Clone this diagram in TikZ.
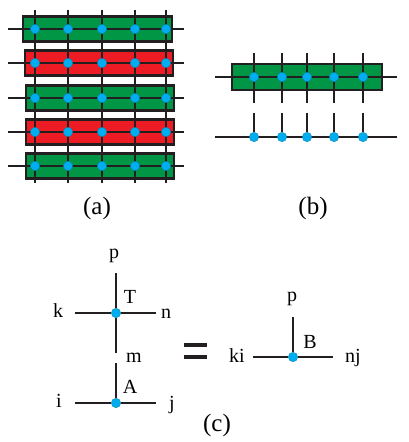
\documentclass[tikz,border=0pt]{standalone}
\usepackage{fontspec}
\setmainfont{Liberation Serif}
\definecolor{lgreen}{RGB}{0,150,70}
\definecolor{lred}{RGB}{237,28,36}
\definecolor{lblue}{RGB}{0,174,239}
\definecolor{lline}{RGB}{35,31,32}
\begin{document}
\begin{tikzpicture}[x=1pt,y=-1pt,
  leg/.style={draw=lline,line width=1.5pt},
  bar/.style={draw=lline,line width=2.8pt},
  site/.style={circle,fill=lblue,draw=lblue!70!black,line width=0.3pt,inner sep=0pt,minimum size=9.5pt},
  lbl/.style={font=\fontsize{20}{22}\selectfont,inner sep=0pt},
  paneltag/.style={font=\fontsize{25}{27}\selectfont,inner sep=0pt}]
\useasboundingbox (0,0) rectangle (409,442);
% ---------- panel (a)
\foreach \x in {35,68,102,135,166} \draw[leg] (\x,10) -- (\x,183);
\foreach \yy/\xa/\xb/\c [count=\r] in {29/23/172/lgreen,63/25/173/lred,98/26/174/lgreen,132/26/174/lred,166/26/174/lgreen}{
  \filldraw[bar,fill=\c] (\xa,\yy-12.5) rectangle (\xb,\yy+12.5);
  \draw[leg] (8,\yy) coordinate (al\r) -- (184,\yy) coordinate (ar\r);
  \foreach \x in {35,68,102,135,166} \draw[leg] (\x,\yy-12.5) -- (\x,\yy+12.5);
  \foreach \x [count=\k] in {35,68,102,135,166} \node[site] (a\r\k) at (\x,\yy) {};
}
\node[paneltag] (la) at (97,208) {(a)};
% ---------- panel (b)
\foreach \x in {254,282,307,334,363} \draw[leg] (\x,53) -- (\x,103);
\filldraw[bar,fill=lgreen] (232,64) rectangle (382,90);
\draw[leg] (215,77) coordinate (bl) -- (397,77) coordinate (br);
\foreach \x in {254,282,307,334,363} \draw[leg] (\x,64) -- (\x,90);
\foreach \x [count=\k] in {254,282,307,334,363} \node[site] (b\k) at (\x,77) {};
\draw[leg] (215,137) coordinate (cl) -- (397,137) coordinate (cr);
\foreach \x [count=\k] in {254,282,307,334,363} {
  \coordinate (ct\k) at (\x,113);
  \node[site] (c\k) at (\x,137) {};
  \draw[leg] (ct\k) -- (c\k);
}
\node[paneltag] (lb) at (313,208) {(b)};
% ---------- panel (c)
\node[site] (T) at (116,313) {};
\coordinate (Tp) at (116,273);
\coordinate (Tk) at (75,313);
\coordinate (Tn) at (156,313);
\coordinate (Tm) at (116,353);
\draw[leg] (Tp) -- (T) -- (Tm);
\draw[leg] (Tk) -- (T) -- (Tn);
\node[lbl] (tp) at (114,256) {p};
\node[lbl] (tk) at (58,311) {k};
\node[lbl] (tn) at (166,314) {n};
\node[lbl] (tT) at (130,297) {T};
\node[lbl] (tm) at (134,358) {m};
\node[site] (A) at (116,403) {};
\coordinate (Am) at (116,363);
\coordinate (Ai) at (75,403);
\coordinate (Aj) at (156,403);
\draw[leg] (Am) -- (A);
\draw[leg] (Ai) -- (A) -- (Aj);
\node[lbl] (ai) at (59,401) {i};
\node[lbl] (aj) at (172,405) {j};
\node[lbl] (aA) at (130,387) {A};
\draw[lline,line width=4.5pt] (184,345) -- (207,345);
\draw[lline,line width=4.5pt] (184,357) -- (207,357);
\node[site] (B) at (293,357) {};
\coordinate (Bp) at (293,317);
\coordinate (Bk) at (253,357);
\coordinate (Bn) at (333,357);
\draw[leg] (Bp) -- (B);
\draw[leg] (Bk) -- (B) -- (Bn);
\node[lbl] (bp) at (292,299) {p};
\node[lbl] (bB) at (310,342) {B};
\node[lbl] (bk) at (237,356) {ki};
\node[lbl] (bn) at (353,358) {nj};
\node[paneltag] (lc) at (217,425) {(c)};
\end{tikzpicture}
\end{document}
